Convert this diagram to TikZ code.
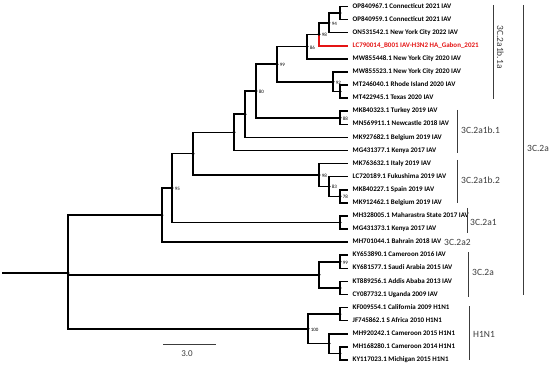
\documentclass[tikz,border=0pt]{standalone}
\usepackage{fontspec}
\setmainfont{Carlito}
\pgfdeclarelayer{bg}
\pgfsetlayers{bg,main}
\definecolor{redleaf}{RGB}{228,20,20}
\definecolor{cladegray}{RGB}{60,60,60}
\begin{document}
\begin{tikzpicture}[x=1pt,y=-1pt,
  br/.style={line width=1.6pt, line join=miter},
  inode/.style={circle, fill=black, inner sep=0pt, minimum size=3.2pt},
  leaf/.style={anchor=west, font=\fontsize{7}{8}\selectfont\bfseries, inner xsep=4.5pt, inner ysep=0pt, text height=4.6pt, text depth=1.3pt},
  bsl/.style={font=\fontsize{5}{5}\selectfont, inner sep=0.3pt, label distance=0.6pt, yshift=-0.8pt},
  cladebar/.style={draw=cladegray, line width=1pt},
  cl/.style={font=\fontsize{9.5}{10}\selectfont, text=cladegray, anchor=west, inner sep=0pt},
]
\useasboundingbox (0,0) rectangle (550,369);

% leaves
\node[leaf] (L1)  at (348,6.5)    {OP840967.1 Connecticut 2021 IAV};
\node[leaf] (L2)  at (348,19.59)  {OP840959.1 Connecticut 2021 IAV};
\node[leaf] (L3)  at (348,32.68)  {ON531542.1 New York City 2022 IAV};
\node[leaf, text=redleaf] (L4)  at (348,45.77)  {LC790014\_B001 IAV-H3N2 HA\_Gabon\_2021};
\node[leaf] (L5)  at (348,58.86)  {MW855448.1 New York City 2020 IAV};
\node[leaf] (L6)  at (348,71.95)  {MW855523.1 New York City 2020 IAV};
\node[leaf] (L7)  at (348,85.04)  {MT246040.1 Rhode Island 2020 IAV};
\node[leaf] (L8)  at (348,98.13)  {MT422945.1 Texas 2020 IAV};
\node[leaf] (L9)  at (348,111.22) {MK840323.1 Turkey 2019 IAV};
\node[leaf] (L10) at (348,124.31) {MN569911.1 Newcastle 2018 IAV};
\node[leaf] (L11) at (348,137.4)  {MK927682.1 Belgium 2019 IAV};
\node[leaf] (L12) at (348,150.49) {MG431377.1 Kenya 2017 IAV};
\node[leaf] (L13) at (348,163.58) {MK763632.1 Italy 2019 IAV};
\node[leaf] (L14) at (348,176.67) {LC720189.1 Fukushima 2019 IAV};
\node[leaf] (L15) at (348,189.76) {MK840227.1 Spain 2019 IAV};
\node[leaf] (L16) at (348,202.85) {MK912462.1 Belgium 2019 IAV};
\node[leaf] (L17) at (348,215.94) {MH328005.1 Maharastra State 2017 IAV};
\node[leaf] (L18) at (348,229.03) {MG431373.1 Kenya 2017 IAV};
\node[leaf] (L19) at (348,242.12) {MH701044.1 Bahrain 2018 IAV};
\node[leaf] (L20) at (348,255.21) {KY653890.1 Cameroon 2016 IAV};
\node[leaf] (L21) at (348,268.3)  {KY681577.1 Saudi Arabia 2015 IAV};
\node[leaf] (L22) at (348,281.39) {KT889256.1 Addis Ababa 2013 IAV};
\node[leaf] (L23) at (348,294.48) {CY087732.1 Uganda 2009 IAV};
\node[leaf] (L24) at (348,307.57) {KF009554.1 California 2009 H1N1};
\node[leaf] (L25) at (348,320.66) {JF745862.1 S Africa 2010 H1N1};
\node[leaf] (L26) at (348,333.75) {MH920242.1 Cameroon 2015 H1N1};
\node[leaf] (L27) at (348,346.84) {MH168280.1 Cameroon 2014 H1N1};
\node[leaf] (L28) at (348,359.93) {KY117023.1 Michigan 2015 H1N1};

% internal nodes
\node[inode] (n12)  at (340,13.05) {};
\node[inode, label={[bsl]0:94}] (n94)  at (329,22.86) {};
\node[inode, label={[bsl]0:98}] (n98a) at (319,34.32) {};
\node[inode, label={[bsl]0:86}] (n86)  at (307,46.59) {};
\node[inode] (n78a) at (340,91.59) {};
\node[inode, label={[bsl]0:92}] (n92)  at (333,81.77) {};
\node[inode, label={[bsl]0:99}] (n99a) at (277,64.18) {};
\node[inode, label={[bsl]0:88}] (n88)  at (340,117.77) {};
\node[inode, label={[bsl]0:80}] (n80)  at (256,90.98) {};
\node[inode] (nC)   at (245,114.19) {};
\node[inode] (nB)   at (234,132.34) {};
\node[inode, label={[bsl]0:78}] (n78)  at (340,196.31) {};
\node[inode, label={[bsl]0:83}] (n83)  at (329,186.49) {};
\node[inode, label={[bsl]0:98}] (n98b) at (319,175.04) {};
\node[inode] (nA)   at (193,153.69) {};
\node[inode] (nM)   at (340,222.49) {};
\node[inode, label={[bsl]0:95}] (n95)  at (172,188.09) {};
\node[inode] (nU)   at (162,215.11) {};
\node[inode, label={[bsl]0:99}] (n99b) at (340,261.76) {};
\node[inode] (nK)   at (340,287.94) {};
\node[inode] (nL)   at (319,274.85) {};
\node[inode] (nH1)  at (340,314.12) {};
\node[inode] (nH3)  at (340,353.39) {};
\node[inode] (nH2)  at (329,343.57) {};
\node[inode, label={[bsl]0:100}] (n100) at (308,328.85) {};
\node[inode] (root) at (68,273) {};
\coordinate (r0) at (2,273);

\begin{pgfonlayer}{bg}
\draw[br] (r0) -- (root.center);
\draw[br] (root.center) |- (nU.center);
\draw[br] (root.center) |- (nL.center);
\draw[br] (root.center) |- (n100.center);
\draw[br] (nU.center) |- (n95.center);
\draw[br] (nU.center) |- (L19.west);
\draw[br] (n95.center) |- (nA.center);
\draw[br] (n95.center) |- (nM.center);
\draw[br] (nM.center) |- (L17.west);
\draw[br] (nM.center) |- (L18.west);
\draw[br] (nA.center) |- (nB.center);
\draw[br] (nA.center) |- (n98b.center);
\draw[br] (n98b.center) |- (L13.west);
\draw[br] (n98b.center) |- (n83.center);
\draw[br] (n83.center) |- (L14.west);
\draw[br] (n83.center) |- (n78.center);
\draw[br] (n78.center) |- (L15.west);
\draw[br] (n78.center) |- (L16.west);
\draw[br] (nB.center) |- (nC.center);
\draw[br] (nB.center) |- (L12.west);
\draw[br] (nC.center) |- (n80.center);
\draw[br] (nC.center) |- (L11.west);
\draw[br] (n80.center) |- (n99a.center);
\draw[br] (n80.center) |- (n88.center);
\draw[br] (n88.center) |- (L9.west);
\draw[br] (n88.center) |- (L10.west);
\draw[br] (n99a.center) |- (n86.center);
\draw[br] (n99a.center) |- (n92.center);
\draw[br] (n92.center) |- (L6.west);
\draw[br] (n92.center) |- (n78a.center);
\draw[br] (n78a.center) |- (L7.west);
\draw[br] (n78a.center) |- (L8.west);
\draw[br] (n86.center) |- (n98a.center);
\draw[br] (n86.center) |- (L5.west);
\draw[br] (n98a.center) |- (n94.center);
\draw[br, draw=redleaf] (n98a.center) |- (L4.west);
\draw[br] (n94.center) |- (n12.center);
\draw[br] (n94.center) |- (L3.west);
\draw[br] (n12.center) |- (L1.west);
\draw[br] (n12.center) |- (L2.west);
\draw[br] (nL.center) |- (n99b.center);
\draw[br] (nL.center) |- (nK.center);
\draw[br] (n99b.center) |- (L20.west);
\draw[br] (n99b.center) |- (L21.west);
\draw[br] (nK.center) |- (L22.west);
\draw[br] (nK.center) |- (L23.west);
\draw[br] (n100.center) |- (nH1.center);
\draw[br] (n100.center) |- (nH2.center);
\draw[br] (nH1.center) |- (L24.west);
\draw[br] (nH1.center) |- (L25.west);
\draw[br] (nH2.center) |- (L26.west);
\draw[br] (nH2.center) |- (nH3.center);
\draw[br] (nH3.center) |- (L27.west);
\draw[br] (nH3.center) |- (L28.west);
\end{pgfonlayer}

% clade bars and labels
\draw[cladebar] (493,5) -- (493,99);
\node[cl, rotate=-90, anchor=center] (c1a) at (500.5,47) {3C.2a1b.1a};
\draw[cladebar] (457,110) -- (457,153);
\node[cl] (c1) at (461,130.5) {3C.2a1b.1};
\draw[cladebar] (457,160) -- (457,203);
\node[cl] (c2) at (461,180.5) {3C.2a1b.2};
\draw[cladebar] (467,208) -- (467,233);
\node[cl] (c3) at (470,222) {3C.2a1};
\node[cl] (c4) at (444,242) {3C.2a2};
\draw[cladebar] (468,252) -- (468,297);
\node[cl] (c5) at (472,272) {3C.2a};
\draw[cladebar] (469,306) -- (469,360);
\node[cl] (c6) at (473,334) {H1N1};
\draw[cladebar] (523,5) -- (523,295);
\node[cl] (c7) at (527,148) {3C.2a};

% scale bar
\coordinate (sb1) at (163,344);
\coordinate (sb2) at (216,344);
\draw[line width=0.8pt, draw=cladegray] (sb1) -- (sb2);
\node[font=\fontsize{9}{10}\selectfont, text=cladegray, inner sep=0pt] (sbl) at (187,354) {3.0};
\end{tikzpicture}
\end{document}
